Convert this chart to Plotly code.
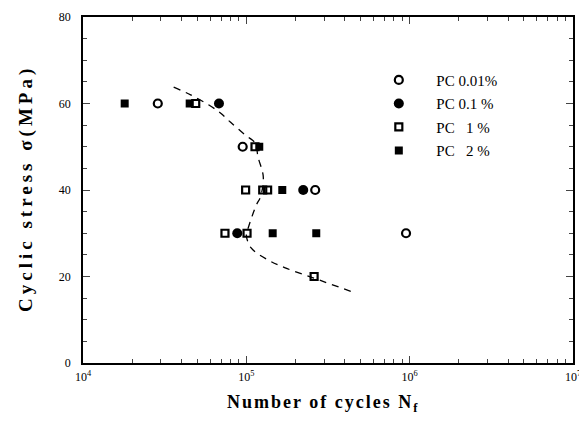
import plotly.graph_objects as go

# Data
pc001_n = [2.87e4, 9.5e4, 2.64e5, 9.5e5]
pc001_s = [60, 50, 40, 30]
pc01_n = [6.8e4, 2.23e5, 8.8e4]
pc01_s = [60, 40, 30]
pc1_n = [4.9e4, 1.13e5, 9.9e4, 1.26e5, 1.35e5, 7.4e4, 1.01e5, 2.6e5]
pc1_s = [60, 50, 40, 40, 40, 30, 30, 20]
pc2_n = [1.8e4, 4.5e4, 1.2e5, 1.66e5, 1.45e5, 2.68e5]
pc2_s = [60, 60, 50, 40, 30, 30]
curve_n = [3.59e4, 4.56e4, 5.87e4, 6.94e4, 7.98e4, 9.86e4, 1.13e5, 1.18e5, 1.27e5,
           1.22e5, 1.15e5, 1.03e5, 1.0e5, 1.07e5, 1.36e5, 1.73e5, 2.56e5, 4.49e5]
curve_s = [63.8, 62.0, 59.7, 57.8, 55.7, 52.7, 50.9, 47.6, 43.0,
           38.4, 36.5, 31.4, 29.6, 26.6, 23.8, 22.0, 19.7, 16.4]

serif = "Liberation Serif, Times New Roman, serif"

fig = go.Figure()
fig.add_trace(go.Scatter(x=curve_n, y=curve_s, mode="lines", showlegend=False,
                         line=dict(color="black", width=1.3, dash="7px,6px"),
                         line_shape="spline"))
fig.add_trace(go.Scatter(x=pc001_n, y=pc001_s, mode="markers", name="PC 0.01%",
                         legendgroup="a",
                         marker=dict(symbol="circle-open", size=8, color="black",
                                     line=dict(width=2.2, color="black"))))
fig.add_trace(go.Scatter(x=pc01_n, y=pc01_s, mode="markers", name="PC 0.1 %",
                         legendgroup="b",
                         marker=dict(symbol="circle", size=10, color="black")))
fig.add_trace(go.Scatter(x=pc1_n, y=pc1_s, mode="markers", name="PC   1 %",
                         legendgroup="c",
                         marker=dict(symbol="square-open", size=7, color="black",
                                     line=dict(width=2.2, color="black"))))
fig.add_trace(go.Scatter(x=pc2_n, y=pc2_s, mode="markers", name="PC   2 %",
                         legendgroup="d",
                         marker=dict(symbol="square", size=8, color="black")))

fig.update_layout(
    width=587, height=425,
    margin=dict(l=75, r=22, t=9, b=70, autoexpand=False),
    paper_bgcolor="white", plot_bgcolor="white",
    font=dict(family=serif, color="black", size=12),
    legend=dict(x=0.568, y=0.865, xanchor="left", yanchor="top",
                bgcolor="rgba(0,0,0,0)", font=dict(size=15, family=serif),
                traceorder="grouped", tracegroupgap=1, itemwidth=65),
    xaxis=dict(type="log", range=[4, 7], showgrid=False, zeroline=False,
               automargin=False,
               showline=True, linecolor="black", linewidth=1.5, mirror="ticks",
               ticks="inside", ticklen=7, tickwidth=1.2,
               tickvals=[1e4, 1e5, 1e6, 1e7],
               ticktext=["10<sup>4</sup>", "10<sup>5</sup>", "10<sup>6</sup>", "10<sup>7</sup>"],
               minor=dict(ticks="inside", ticklen=4, tickwidth=1, dtick="D1"),
               tickfont=dict(size=12), ticklabelstandoff=2),
    yaxis=dict(range=[0, 80], showgrid=False, zeroline=False,
               automargin=False,
               showline=True, linecolor="black", linewidth=1.5, mirror="ticks",
               ticks="inside", ticklen=7, tickwidth=1.2, dtick=20,
               minor=dict(ticks="inside", ticklen=4, tickwidth=1, dtick=5),
               tickfont=dict(size=12), ticklabelstandoff=8),
    annotations=[
        dict(text="<b><span style='letter-spacing:2px'>Number of cycles N<sub>f</sub></span></b>",
             xref="paper", yref="paper", x=0.49, y=-0.118, xanchor="center", yanchor="middle",
             showarrow=False, font=dict(size=18, family=serif)),
        dict(text="<b><span style='letter-spacing:4px'>Cyclic stress σ(MPa)</span></b>",
             xref="paper", yref="paper", x=-0.115, y=0.505, xanchor="center", yanchor="middle",
             textangle=-90, showarrow=False, font=dict(size=19, family=serif)),
    ],
)

fig.write_html("out.html")
